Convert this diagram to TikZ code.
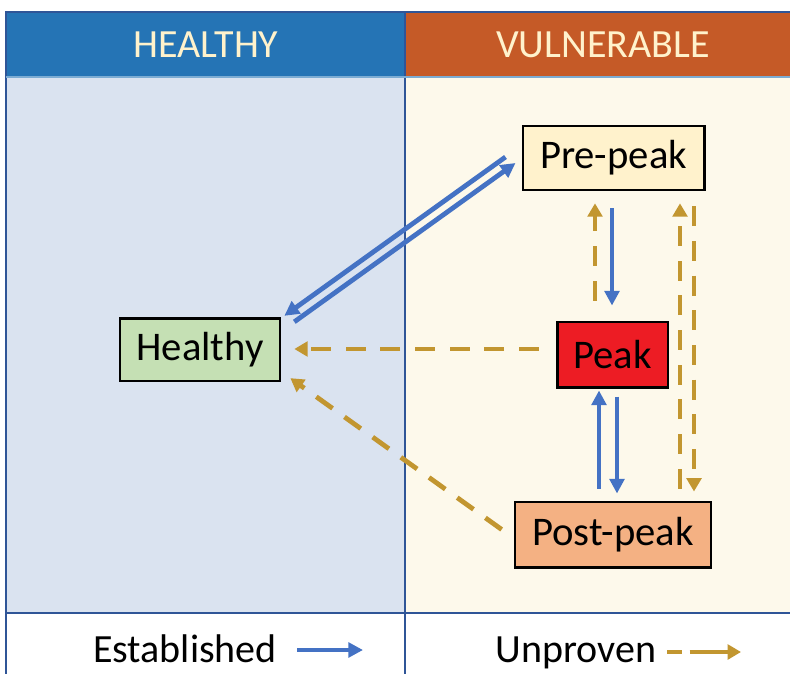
\documentclass[tikz,border=0pt]{standalone}
\usepackage{fontspec}
\setmainfont{Carlito}
\usetikzlibrary{arrows.meta,calc}
\definecolor{hblue}{RGB}{37,116,181}
\definecolor{vorange}{RGB}{197,90,39}
\definecolor{bodyblue}{RGB}{218,227,240}
\definecolor{bodycream}{RGB}{253,249,235}
\definecolor{framec}{RGB}{47,85,151}
\definecolor{hdrtext}{RGB}{255,242,204}
\definecolor{estblue}{RGB}{68,114,196}
\definecolor{ungold}{RGB}{194,150,48}
\definecolor{hgreen}{RGB}{197,224,180}
\definecolor{prefill}{RGB}{255,242,204}
\definecolor{peakred}{RGB}{237,28,36}
\definecolor{postfill}{RGB}{244,177,131}
\tikzset{
  box/.style={draw=black, line width=2pt, inner sep=0pt, font=\fontsize{30.5}{34}\selectfont},
  est/.style={draw=estblue, line width=3.6pt, -{Triangle[length=11pt,width=11pt]}},
  unp/.style={draw=ungold, line width=3.6pt, dash pattern=on 15pt off 11pt, -{Triangle[length=10pt,width=11pt]}},
  hdr/.style={font=\fontsize{30}{34}\selectfont, text=hdrtext},
  leg/.style={font=\fontsize{30}{34}\selectfont, text=black, anchor=base}
}
\begin{document}
\begin{tikzpicture}[x=0.75pt,y=-0.75pt]
\useasboundingbox (0,0) rectangle (790,674);
\fill[white] (0,0) rectangle (790,674);
% header
\fill[hblue] (6,12) rectangle (405,77);
\fill[vorange] (405,12) rectangle (790,77);
% body
\fill[bodyblue] (6,77) rectangle (405,613);
\fill[bodycream] (405,77) rectangle (790,613);
% frame lines
\draw[framec, line width=1.5pt] (6,674) -- (6,12) -- (790,12);
\draw[framec, line width=1.5pt] (405,12) -- (405,674);
\draw[framec, line width=1.5pt] (6,613) -- (790,613);
\draw[hblue!60!white, line width=0.8pt] (6,77) -- (790,77);
\node[hdr] (hh) at (206,45) {HEALTHY};
\node[hdr] (hv) at (603,45) {VULNERABLE};
% nodes
\node[box, fill=hgreen, minimum width=120pt, minimum height=47pt] (healthy) at (200,349.5) {Healthy};
\node[box, fill=prefill, minimum width=136pt, minimum height=48pt] (prepeak) at (613.5,158) {Pre-peak};
\node[box, fill=peakred, minimum width=83pt, minimum height=49pt] (peak) at (612.5,354.5) {Peak};
\node[box, fill=postfill, minimum width=147pt, minimum height=49pt] (postpeak) at (613,534.5) {Post-peak};
% established arrows
\draw[est] ($(prepeak.west)+(-16,-1)$) -- ($(healthy.north east)+(3,-1)$);
\draw[est] ($(healthy.north east)+(13,5)$) -- ($(prepeak.west)+(-6,5)$);
\draw[est] ($(prepeak.south)+(-1.5,17)$) -- ($(peak.north)+(-0.5,-15)$);
\draw[est] ($(postpeak.north)+(-14,-12)$) -- ($(peak.south)+(-13.5,2)$);
\draw[est] ($(peak.south)+(4.5,8)$) -- ($(postpeak.north)+(4,-7)$);
% unproven arrows
\draw[unp] ($(peak.north)+(-17.5,-20)$) -- ($(prepeak.south)+(-18.5,12)$);
\draw[unp] ($(postpeak.north)+(67,-12)$) -- ($(prepeak.south)+(66.5,12)$);
\draw[unp] ($(prepeak.south)+(80.5,15)$) -- ($(postpeak.north)+(81,-9)$);
\draw[unp] ($(peak.west)+(-17,-5.5)$) -- ($(healthy.east)+(13,-0.5)$);
\draw[unp] ($(postpeak.west)+(-12,-5)$) -- ($(healthy.south east)+(9,-4)$);
% legend
\node[leg] (lest) at (185,662) {Established};
\coordinate (le1) at (297,650);
\coordinate (le2) at (363,650);
\draw[est] (le1) -- (le2);
\node[leg] (lunp) at (576,662) {Unproven};
\coordinate (lu1) at (667,652);
\coordinate (lu2) at (741,652);
\draw[unp, dash pattern=on 11pt off 6pt on 40pt off 0pt] (lu1) -- (lu2);
\end{tikzpicture}
\end{document}
